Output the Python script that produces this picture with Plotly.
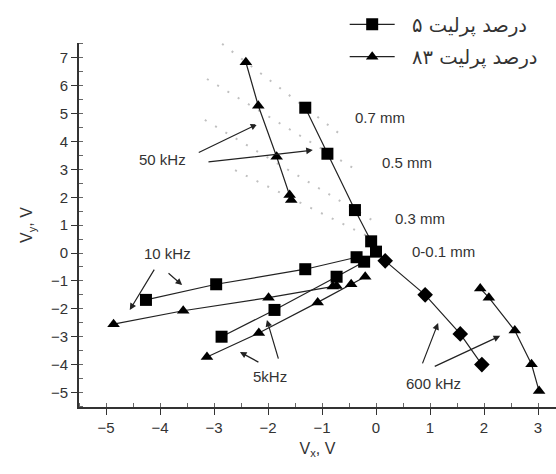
import plotly.graph_objects as go

# ---- data ----
# 5% perlite (squares): 50 kHz branch through depths, continuing to 600 kHz (diamonds)
sq50_x = [-1.31, -0.90, -0.39, -0.09, 0.00]
sq50_y = [5.21, 3.56, 1.54, 0.42, 0.05]
dia600_x = [0.17, 0.91, 1.56, 1.96]
dia600_y = [-0.28, -1.50, -2.90, -4.00]
sq10_x = [-4.26, -2.96, -1.31, -0.36]
sq10_y = [-1.68, -1.12, -0.58, -0.15]
sq5_x = [-2.86, -1.88, -0.73, -0.22]
sq5_y = [-3.00, -2.04, -0.85, -0.31]

# 83% perlite (triangles)
tr50_x = [-2.41, -2.18, -1.84, -1.60, -1.57]
tr50_y = [6.84, 5.28, 3.45, 2.08, 1.90]
tr10_x = [-4.86, -3.57, -1.99, -0.80, -0.73]
tr10_y = [-2.55, -2.07, -1.60, -1.20, -1.18]
tr5_x = [-3.13, -2.17, -1.08, -0.46, -0.20]
tr5_y = [-3.73, -2.87, -1.77, -1.12, -0.85]
tr600_x = [1.93, 2.09, 2.57, 2.88, 3.02]
tr600_y = [-1.27, -1.60, -2.78, -3.99, -4.95]

# constant-depth guide lines (dotted): start/end points
depth_x0 = [-2.85, -3.13, -3.17, -2.61]
depth_y0 = [7.50, 6.24, 4.77, 2.97]
depth_x1 = [-0.57, -0.30, -0.07, 0.17]
depth_y1 = [4.12, 2.90, 1.18, 0.29]

depth_labels = ["0.7 mm", "0.5 mm", "0.3 mm", "0-0.1 mm"]
depth_label_x = [-0.43, 0.07, 0.31, 0.63]
depth_label_y = [4.87, 3.26, 1.25, 0.04]

legend_names = ["۵ درصد پرلیت", "۸۳ درصد پرلیت"]

# frequency labels and arrows (text pos, arrow tail, arrow head) in data units
freq_labels = ["50 kHz", "10 kHz", "5kHz", "600 kHz"]
freq_label_x = [-3.96, -3.87, -1.96, 1.06]
freq_label_y = [3.37, 0.00, -4.44, -4.66]
arrow_label = [0, 0, 1, 1, 2, 2, 3, 3]
arrow_tail_x = [-3.31, -3.13, -4.09, -3.87, -2.15, -1.80, 0.85, 1.06]
arrow_tail_y = [3.58, 3.26, -0.54, -0.68, -3.94, -3.84, -4.01, -4.09]
arrow_head_x = [-2.20, -1.17, -4.56, -3.59, -2.52, -2.02, 1.15, 2.30]
arrow_head_y = [4.62, 3.69, -2.04, -1.15, -3.55, -2.40, -2.51, -2.97]

x_ticks = [-5, -4, -3, -2, -1, 0, 1, 2, 3]
y_ticks = [-5, -4, -3, -2, -1, 0, 1, 2, 3, 4, 5, 6, 7]

LINE = "#222222"
TXT = "#333333"
FONT = "Liberation Sans, Arial, sans-serif"
PAD = "\u00a0\u00a0"  # gap between legend symbol and (right-to-left) label

fig = go.Figure()

# dotted depth lines
for i in range(len(depth_x0)):
    fig.add_trace(go.Scatter(
        x=[depth_x0[i], depth_x1[i]], y=[depth_y0[i], depth_y1[i]],
        mode="lines", line=dict(color="#c0c0c0", width=2, dash="2px,10px"),
        showlegend=False, hoverinfo="skip"))

sq_marker = dict(symbol="square", size=12, color="black")
tr_marker = dict(symbol="triangle-up", size=11, color="black")
lw = dict(color=LINE, width=1.2)

# 5% perlite 50 kHz -> 600 kHz connecting line
fig.add_trace(go.Scatter(x=sq50_x + dia600_x, y=sq50_y + dia600_y, mode="lines",
                         line=lw, showlegend=False, hoverinfo="skip"))
fig.add_trace(go.Scatter(x=sq50_x, y=sq50_y, mode="markers", marker=sq_marker,
                         showlegend=False))
fig.add_trace(go.Scatter(x=dia600_x, y=dia600_y, mode="markers",
                         marker=dict(symbol="diamond", size=12, color="black"),
                         showlegend=False))
fig.add_trace(go.Scatter(x=sq10_x, y=sq10_y, mode="lines+markers", marker=sq_marker,
                         line=lw, name=PAD + legend_names[0], legendgroup="a"))
fig.add_trace(go.Scatter(x=sq5_x, y=sq5_y, mode="lines+markers", marker=sq_marker,
                         line=lw, showlegend=False, legendgroup="a"))

for k, (xx, yy) in enumerate([(tr10_x, tr10_y), (tr50_x, tr50_y), (tr5_x, tr5_y), (tr600_x, tr600_y)]):
    fig.add_trace(go.Scatter(x=xx, y=yy, mode="lines+markers", marker=tr_marker,
                             line=lw, name=PAD + legend_names[1], legendgroup="b",
                             showlegend=(k == 0)))

annotations = []
for t, x, y in zip(depth_labels, depth_label_x, depth_label_y):
    annotations.append(dict(x=x, y=y, text=t, showarrow=False, xanchor="left",
                            yanchor="middle", font=dict(size=15, color=TXT, family=FONT)))
for t, x, y in zip(freq_labels, freq_label_x, freq_label_y):
    annotations.append(dict(x=x, y=y, text=t, showarrow=False, xanchor="center",
                            yanchor="middle", font=dict(size=15, color=TXT, family=FONT)))
for i in range(len(arrow_label)):
    annotations.append(dict(x=arrow_head_x[i], y=arrow_head_y[i],
                            ax=arrow_tail_x[i], ay=arrow_tail_y[i],
                            xref="x", yref="y", axref="x", ayref="y",
                            text="", showarrow=True, arrowhead=2, arrowsize=1.1,
                            arrowwidth=1.2, arrowcolor=LINE))

axis_common = dict(showline=True, linecolor="#333333", linewidth=1.6, mirror=False,
                   showgrid=False, zeroline=False, ticks="outside", ticklen=6,
                   tickwidth=1.4, tickcolor="#333333",
                   tickfont=dict(size=15, color=TXT, family=FONT),
                   minor=dict(ticks="inside", ticklen=4, tickwidth=1, tickcolor="#666666", dtick=0.5))

fig.update_layout(
    width=556, height=474,
    margin=dict(l=79, r=0, t=43, b=67, autoexpand=False),
    paper_bgcolor="white", plot_bgcolor="white",
    xaxis=dict(range=[-5.5, 3.333], tickvals=x_ticks,
               title=dict(text="V<sub>x</sub>, V", font=dict(size=16, color=TXT, family=FONT), standoff=8),
               **axis_common),
    yaxis=dict(range=[-5.52, 7.53], tickvals=y_ticks,
               title=dict(text="V<sub>y</sub>, V", font=dict(size=16, color=TXT, family=FONT), standoff=14),
               **axis_common),
    legend=dict(x=0.557, y=1.104, xanchor="left", yanchor="top",
                font=dict(size=19.5, color=TXT, family="DejaVu Sans"),
                bgcolor="rgba(0,0,0,0)", tracegroupgap=4, itemwidth=45),
    annotations=annotations,
    showlegend=True,
)

fig.write_html("out.html")
